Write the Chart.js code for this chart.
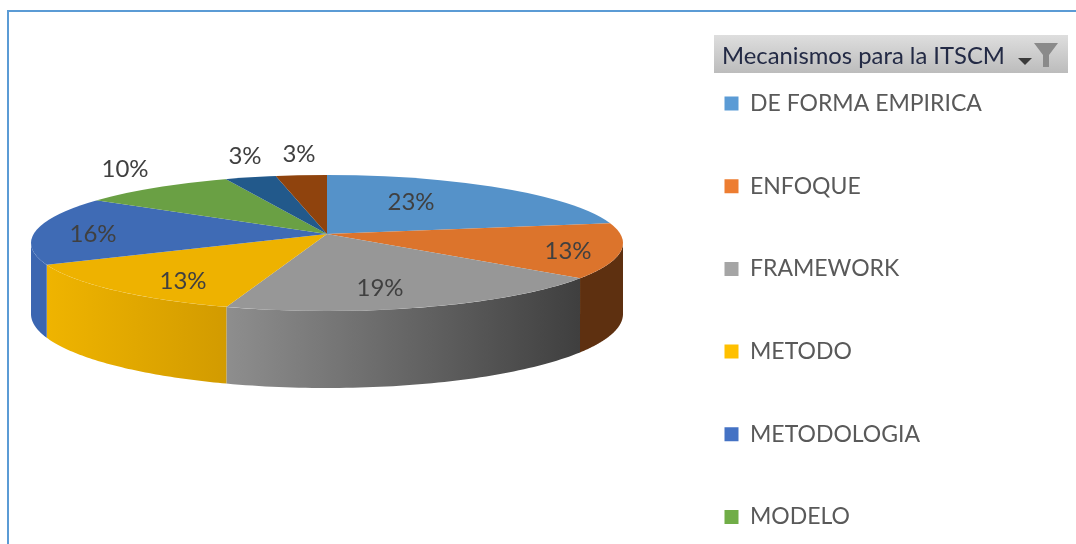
<!DOCTYPE html>
<html>
<head>
<meta charset="utf-8">
<script src="https://cdn.jsdelivr.net/npm/chart.js@4"></script>
<style>
html,body{margin:0;padding:0;background:#fff;overflow:hidden;width:1076px;height:544px}
#wrap{position:relative;width:1076px;height:544px;overflow:hidden}
#frame{position:absolute;left:7px;top:10px;width:1069px;height:534px;border-left:2px solid #5b9bd5;border-top:2px solid #5b9bd5;box-sizing:border-box}
canvas{position:absolute;left:0;top:0;filter:blur(0.35px)}
</style>
</head>
<body>
<div id="wrap"><div id="frame"></div><canvas id="c" width="1076" height="640"></canvas></div>
<script>
const categories = ["DE FORMA EMPIRICA","ENFOQUE","FRAMEWORK","METODO","METODOLOGIA","MODELO","(fuera de vista 1)","(fuera de vista 2)"];
const values = [7,4,6,4,5,3,1,1];
const sliceColors = ["#5592c9","#dc742c","#979797","#eeb200","#3f6bb5","#6aa044","#22598b","#8f430d"];
const legendColors = ["#5b9bd5","#ed7d31","#a5a5a5","#ffc000","#4472c4","#70ad47"];
const wallColors = [null,["#5e3010","#5e3010"],["#8e8e8e","#3f3f3f"],["#efb400","#d29b00"],["#3b66b1","#3b66b1"],null,null,null];
const labelOffsets = [[84,-32],[241,17],[53,54],[-144,47],[-234,0],[-202,-65],[-82,-78],[-28,-80]];
const filterTitle = "Mecanismos para la ITSCM";

// Perspective of the original 3-D pie: an elliptical rim with the hub sitting above its centre.
const HUB_X=327, HUB_Y=234, R=296, RIM_Y=243, RIM_RY=68, WARP=8.2*Math.PI/180;
const K = RIM_RY/R;
const total = values.reduce((a,b)=>a+b,0);

const warp = t => t - WARP*Math.cos(t);
function rayAngle(t){
  let r = Math.atan2((RIM_Y-HUB_Y+RIM_RY*Math.sin(t))/K, R*Math.cos(t));
  while(r < t-Math.PI) r += 2*Math.PI;
  while(r > t+Math.PI) r -= 2*Math.PI;
  return r;
}
function wallDepth(t){ return 71 + 6*Math.sin(t); }

const pie3d = {
  id:'pie3d',
  afterLayout(chart){
    const ca = chart.chartArea;
    ca.left = 0; ca.right = HUB_X*2; ca.top = 0; ca.bottom = HUB_Y*2;
    ca.width = HUB_X*2; ca.height = HUB_Y*2;
    const lg = chart.legend;
    const pad = lg.options.labels.padding;
    lg.left = 724.5 - pad; lg.right = lg.left + lg.width;
    lg.top = 103.5 - 11.5 - pad; lg.bottom = lg.top + lg.height;
  },
  afterDatasetsUpdate(chart){
    chart.getDatasetMeta(0).data.forEach(a=>{
      a.rimStart = warp(a.startAngle); a.rimEnd = warp(a.endAngle);
      a.startAngle = rayAngle(a.rimStart);
      a.endAngle = rayAngle(a.rimEnd);
      a.circumference = a.endAngle - a.startAngle;
      a.outerRadius = R*1.4;
    });
  },
  beforeDatasetsDraw(chart){
    const ctx = chart.ctx, arcs = chart.getDatasetMeta(0).data;
    // side walls
    arcs.forEach((a,i)=>{
      const c = wallColors[i]; if(!c) return;
      const s = Math.max(a.rimStart,0), e = Math.min(a.rimEnd,Math.PI);
      if(e<=s) return;
      const top=[], bot=[], n=60;
      for(let k=0;k<=n;k++){
        const t = s+(e-s)*k/n;
        const x = HUB_X+R*Math.cos(t), y = RIM_Y+RIM_RY*Math.sin(t);
        top.push([x,y]); bot.push([x,y+wallDepth(t)]);
      }
      const g = ctx.createLinearGradient(top[n][0],0,top[0][0],0);
      g.addColorStop(0,c[0]); g.addColorStop(1,c[1]);
      ctx.save(); ctx.beginPath();
      top.forEach((p,k)=>k?ctx.lineTo(p[0],p[1]):ctx.moveTo(p[0],p[1]));
      bot.reverse().forEach(p=>ctx.lineTo(p[0],p[1]));
      ctx.closePath(); ctx.fillStyle=g; ctx.fill(); ctx.restore();
    });
    // top face: library arcs, foreshortened and clipped to the rim ellipse
    ctx.save();
    ctx.beginPath(); ctx.ellipse(HUB_X,RIM_Y,R,RIM_RY,0,0,Math.PI*2); ctx.clip();
    ctx.translate(HUB_X,HUB_Y); ctx.scale(1,K); ctx.translate(-HUB_X,-HUB_Y);
    arcs.forEach(a=>a.draw(ctx));
    ctx.restore();
    return false;
  },
  afterDraw(chart){
    const ctx = chart.ctx, arcs = chart.getDatasetMeta(0).data;
    ctx.save();
    ctx.font = '24px Lato'; ctx.fillStyle='#404040'; ctx.textAlign='center'; ctx.textBaseline='middle';
    arcs.forEach((a,i)=>{
      const o = labelOffsets[i];
      ctx.fillText(Math.round(values[i]/total*100)+'%', a.x+o[0], a.y+o[1]);
    });
    const g = ctx.createLinearGradient(0,35,0,73);
    g.addColorStop(0,'#dedede'); g.addColorStop(1,'#bcbcbc');
    ctx.fillStyle=g; ctx.fillRect(714,35,354,38);
    ctx.font='23.8px Lato'; ctx.fillStyle='#232a45'; ctx.textAlign='left'; ctx.textBaseline='middle';
    ctx.fillText(filterTitle,722,56);
    ctx.fillStyle='#8a8a8a'; ctx.beginPath();
    ctx.moveTo(1034,43);ctx.lineTo(1058,43);ctx.lineTo(1049,55);ctx.lineTo(1049,67);ctx.lineTo(1043,67);ctx.lineTo(1043,55);ctx.closePath();ctx.fill();
    ctx.fillStyle='#3a3a3a'; ctx.beginPath();
    ctx.moveTo(1018,58);ctx.lineTo(1032,58);ctx.lineTo(1025,65);ctx.closePath();ctx.fill();
    ctx.restore();
  }
};

new Chart(document.getElementById('c'),{
  type:'pie',
  data:{labels:categories,datasets:[{data:values,backgroundColor:sliceColors,borderWidth:0,radius:R}]},
  plugins:[pie3d],
  options:{
    responsive:false,animation:false,
    plugins:{
      tooltip:{enabled:false},
      legend:{
        position:'right',align:'start',
        labels:{
          boxWidth:14,boxHeight:14,padding:59.7,color:'#595959',font:{family:'Lato',size:23},
          filter:(item,data)=>item.index<legendColors.length,
          generateLabels(chart){
            return Chart.overrides.pie.plugins.legend.labels.generateLabels(chart)
              .map((it,i)=>Object.assign(it,{fillStyle:legendColors[i]||it.fillStyle,lineWidth:0,strokeStyle:'transparent'}));
          }
        }
      }
    }
  }
});
</script>
</body>
</html>
